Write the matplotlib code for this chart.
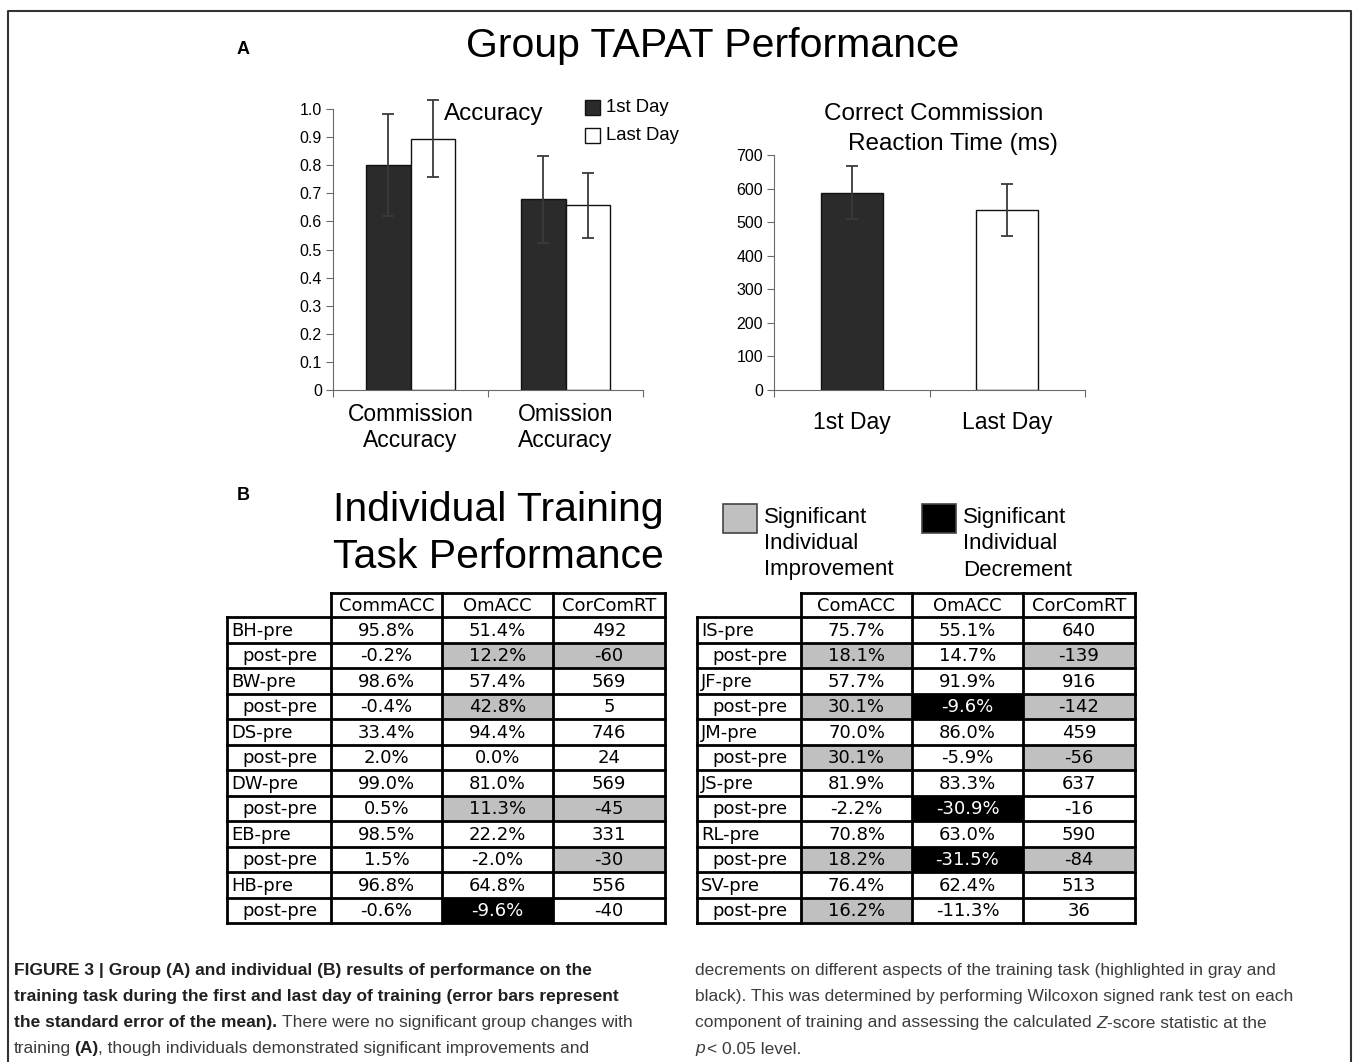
import numpy as np
import matplotlib
matplotlib.use('Agg')
import matplotlib.pyplot as plt
from matplotlib.patches import Rectangle

W, H = 1354, 1062

# Panel A data
acc_categories = ['Commission\nAccuracy', 'Omission\nAccuracy']
acc_first = [0.80, 0.678]
acc_first_err = [0.182, 0.155]
acc_last = [0.895, 0.657]
acc_last_err = [0.137, 0.115]

rt_labels = ['1st Day', 'Last Day']
rt_means = [588, 536]
rt_err = [78, 78]

# Panel B data (0 = none, 1 = significant improvement, 2 = significant decrement)
left_headers = ['CommACC', 'OmACC', 'CorComRT']
left_subjects = ['BH', 'BW', 'DS', 'DW', 'EB', 'HB']
left_pre = [['95.8%', '51.4%', '492'], ['98.6%', '57.4%', '569'], ['33.4%', '94.4%', '746'],
            ['99.0%', '81.0%', '569'], ['98.5%', '22.2%', '331'], ['96.8%', '64.8%', '556']]
left_change = [['-0.2%', '12.2%', '-60'], ['-0.4%', '42.8%', '5'], ['2.0%', '0.0%', '24'],
               ['0.5%', '11.3%', '-45'], ['1.5%', '-2.0%', '-30'], ['-0.6%', '-9.6%', '-40']]
left_sig = [[0, 1, 1], [0, 1, 0], [0, 0, 0], [0, 1, 1], [0, 0, 1], [0, 2, 0]]

right_headers = ['ComACC', 'OmACC', 'CorComRT']
right_subjects = ['IS', 'JF', 'JM', 'JS', 'RL', 'SV']
right_pre = [['75.7%', '55.1%', '640'], ['57.7%', '91.9%', '916'], ['70.0%', '86.0%', '459'],
             ['81.9%', '83.3%', '637'], ['70.8%', '63.0%', '590'], ['76.4%', '62.4%', '513']]
right_change = [['18.1%', '14.7%', '-139'], ['30.1%', '-9.6%', '-142'], ['30.1%', '-5.9%', '-56'],
                ['-2.2%', '-30.9%', '-16'], ['18.2%', '-31.5%', '-84'], ['16.2%', '-11.3%', '36']]
right_sig = [[1, 0, 1], [1, 2, 1], [1, 0, 1], [0, 2, 0], [1, 2, 1], [1, 0, 0]]

caption_left = [
    [('FIGURE 3 | Group (A) and individual (B) results of performance on the', 'b', 0)],
    [('training task during the first and last day of training (error bars represent', 'b', 0)],
    [('the standard error of the mean).', 'b', 0), ('There were no significant group changes with', 'n', 1)],
    [('training', 'n', 0), ('(A)', 'b', 0.6), (', though individuals demonstrated significant improvements and', 'n', 0)],
]
caption_right = [
    [('decrements on different aspects of the training task (highlighted in gray and', 'n', 0)],
    [('black). This was determined by performing Wilcoxon signed rank test on each', 'n', 0)],
    [('component of training and assessing the calculated', 'n', 0), ('Z', 'i', 1), ('-score statistic at the', 'n', 0)],
    [('p', 'i', 0), ('< 0.05 level.', 'n', 0.5)],
]

SANS = ['Liberation Sans', 'DejaVu Sans']
DARK = '#2b2b2b'
GRAY = '#c0c0c0'

fig = plt.figure(figsize=(W / 100, H / 100), dpi=100)
bg = fig.add_axes([0, 0, 1, 1])
bg.set_xlim(0, W)
bg.set_ylim(H, 0)
bg.axis('off')


def px_axes(left, top, right, bottom):
    ax = fig.add_axes([left / W, 1 - bottom / H, (right - left) / W, (bottom - top) / H])
    ax.patch.set_visible(False)
    return ax


def style_axes(ax, labels, pad, size):
    for s in ['top', 'right']:
        ax.spines[s].set_visible(False)
    for s in ['left', 'bottom']:
        ax.spines[s].set_color('#6a6a6a')
    ax.set_xlim(-0.5, len(labels) - 0.5)
    ax.set_xticks(np.arange(len(labels) + 1) - 0.5)
    ax.set_xticklabels([])
    ax.tick_params(axis='x', which='major', direction='out', length=5, color='#6a6a6a')
    ax.set_xticks(np.arange(len(labels)), minor=True)
    ax.set_xticklabels(labels, minor=True, fontsize=size, family=SANS)
    ax.tick_params(axis='x', which='minor', length=0, pad=pad)
    ax.tick_params(axis='y', direction='out', length=5, color='#6a6a6a', labelsize=11.5, pad=3)
    for t in ax.get_yticklabels():
        t.set_family(SANS)


def err(ax, x, y, e):
    res = ax.errorbar(x, y, yerr=e, fmt='none', ecolor='#3a3a3a', elinewidth=1.3,
                      capsize=4.5, capthick=1.3, zorder=3)
    for a in res.lines[1] + res.lines[2]:
        a.set_clip_on(False)


# Accuracy panel
ax1 = px_axes(333, 109, 643, 390)
x = np.arange(len(acc_categories))
bw = 0.287
ax1.bar(x - bw / 2, acc_first, bw, color=DARK, edgecolor='#111111', lw=1)
ax1.bar(x + bw / 2, acc_last, bw, color='white', edgecolor='#111111', lw=1)
err(ax1, x - bw / 2, acc_first, acc_first_err)
err(ax1, x + bw / 2, acc_last, acc_last_err)
ax1.set_ylim(0, 1.0)
yt = np.arange(0, 1.01, 0.1)
ax1.set_yticks(yt)
ax1.set_yticklabels(['0'] + ['%.1f' % v for v in yt[1:]])
style_axes(ax1, acc_categories, 9, 16.5)

# Reaction time panel
ax2 = px_axes(774, 155, 1085, 390)
x2 = np.arange(len(rt_labels))
ax2.bar(x2, rt_means, 0.4, color=[DARK, 'white'], edgecolor='#111111', lw=1)
err(ax2, x2, rt_means, rt_err)
ax2.set_ylim(0, 700)
ax2.set_yticks(np.arange(0, 701, 100))
style_axes(ax2, rt_labels, 15, 16.5)

# titles and legend for panel A
bg.text(713, 46, 'Group TAPAT Performance', fontsize=29.5, family=SANS, ha='center', va='center')
bg.text(243, 50, 'A', fontsize=13, fontweight='bold', family=SANS, ha='center', va='center')
bg.text(494, 114, 'Accuracy', fontsize=17.5, family=SANS, ha='center', va='center')
bg.text(934, 114, 'Correct Commission', fontsize=17.5, family=SANS, ha='center', va='center')
bg.text(953, 144, 'Reaction Time (ms)', fontsize=17.5, family=SANS, ha='center', va='center')
for i, (lab, col) in enumerate([('1st Day', DARK), ('Last Day', 'white')]):
    yc = 107 + 28.5 * i
    bg.add_patch(Rectangle((585, yc - 7.5), 15, 15, facecolor=col, edgecolor='#111111', lw=1))
    bg.text(606, yc, lab, fontsize=13.3, family=SANS, ha='left', va='center')

# panel B titles and legend
bg.text(243, 495, 'B', fontsize=13, fontweight='bold', family=SANS, ha='center', va='center')
bg.text(498, 510, 'Individual Training', fontsize=29.5, family=SANS, ha='center', va='center')
bg.text(498, 557, 'Task Performance', fontsize=29.5, family=SANS, ha='center', va='center')
for x0, col, lines in [(723, GRAY, ['Significant', 'Individual', 'Improvement']),
                       (922, 'black', ['Significant', 'Individual', 'Decrement'])]:
    bg.add_patch(Rectangle((x0, 504), 34, 29, facecolor=col, edgecolor='#444444', lw=1.2))
    for k, s in enumerate(lines):
        bg.text(x0 + 41, 517 + 26.5 * k, s, fontsize=16, family=SANS, ha='left', va='center')


def draw_table(edges, headers, subjects, pre, change, sig):
    top, hh, rh = 593, 24, 25.5
    nrow = 2 * len(subjects)
    bottom = top + hh + nrow * rh
    tfont = dict(fontsize=13, family='DejaVu Sans', va='center')
    for j, h in enumerate(headers):
        bg.text((edges[j + 1] + edges[j + 2]) / 2, top + hh / 2 + 1, h, ha='center', **tfont)
    for i in range(nrow):
        y0 = top + hh + i * rh
        k = i // 2
        if i % 2 == 0:
            label, vals, marks, lx = subjects[k] + '-pre', pre[k], [0, 0, 0], edges[0] + 4
        else:
            label, vals, marks, lx = 'post-pre', change[k], sig[k], edges[0] + 15
        bg.text(lx, y0 + rh / 2 + 1, label, ha='left', **tfont)
        for j, v in enumerate(vals):
            fc = [None, GRAY, 'black'][marks[j]]
            if fc:
                bg.add_patch(Rectangle((edges[j + 1], y0), edges[j + 2] - edges[j + 1], rh,
                                       facecolor=fc, edgecolor='none'))
            bg.text((edges[j + 1] + edges[j + 2]) / 2, y0 + rh / 2 + 1, v, ha='center',
                    color='white' if marks[j] == 2 else 'black', **tfont)
    lk = dict(color='black', lw=2, solid_capstyle='projecting')
    bg.plot([edges[1], edges[-1]], [top, top], **lk)
    for i in range(nrow + 1):
        y = top + hh + i * rh
        bg.plot([edges[0], edges[-1]], [y, y], **lk)
    bg.plot([edges[0], edges[0]], [top + hh, bottom], **lk)
    for e in edges[1:]:
        bg.plot([e, e], [top, bottom], **lk)


draw_table([227, 331, 442, 553, 665], left_headers, left_subjects, left_pre, left_change, left_sig)
draw_table([697, 801, 912, 1023, 1135], right_headers, right_subjects, right_pre, right_change, right_sig)

# outer frame
bg.plot([8, 8, 1351, 1351], [H + 5, 11, 11, H + 5], color='#333333', lw=1.5)

# caption
renderer = fig.canvas.get_renderer()
CAP = ['Liberation Sans Narrow', 'Liberation Sans', 'DejaVu Sans']
probe = bg.text(0, 0, caption_left[0][0][0], fontsize=12.5, fontweight='bold', family=CAP)
cap_size = min(12.5, 12.5 * 600 / probe.get_window_extent(renderer).width)
probe.remove()
space = 0.28 * cap_size * 100 / 72


def put_runs(x, y, runs):
    for text, st, gap in runs:
        x += gap * space
        t = bg.text(x, y, text, fontsize=cap_size, family=CAP, va='center', ha='left',
                    fontweight='bold' if st == 'b' else 'normal',
                    fontstyle='italic' if st == 'i' else 'normal',
                    color='#231f20' if st == 'b' else '#3c3c3c')
        x += t.get_window_extent(renderer).width


for k, runs in enumerate(caption_left):
    put_runs(14, 971 + 26 * k, runs)
for k, runs in enumerate(caption_right):
    put_runs(695, 971 + 26 * k, runs)

fig.savefig('out.png', dpi=100)
